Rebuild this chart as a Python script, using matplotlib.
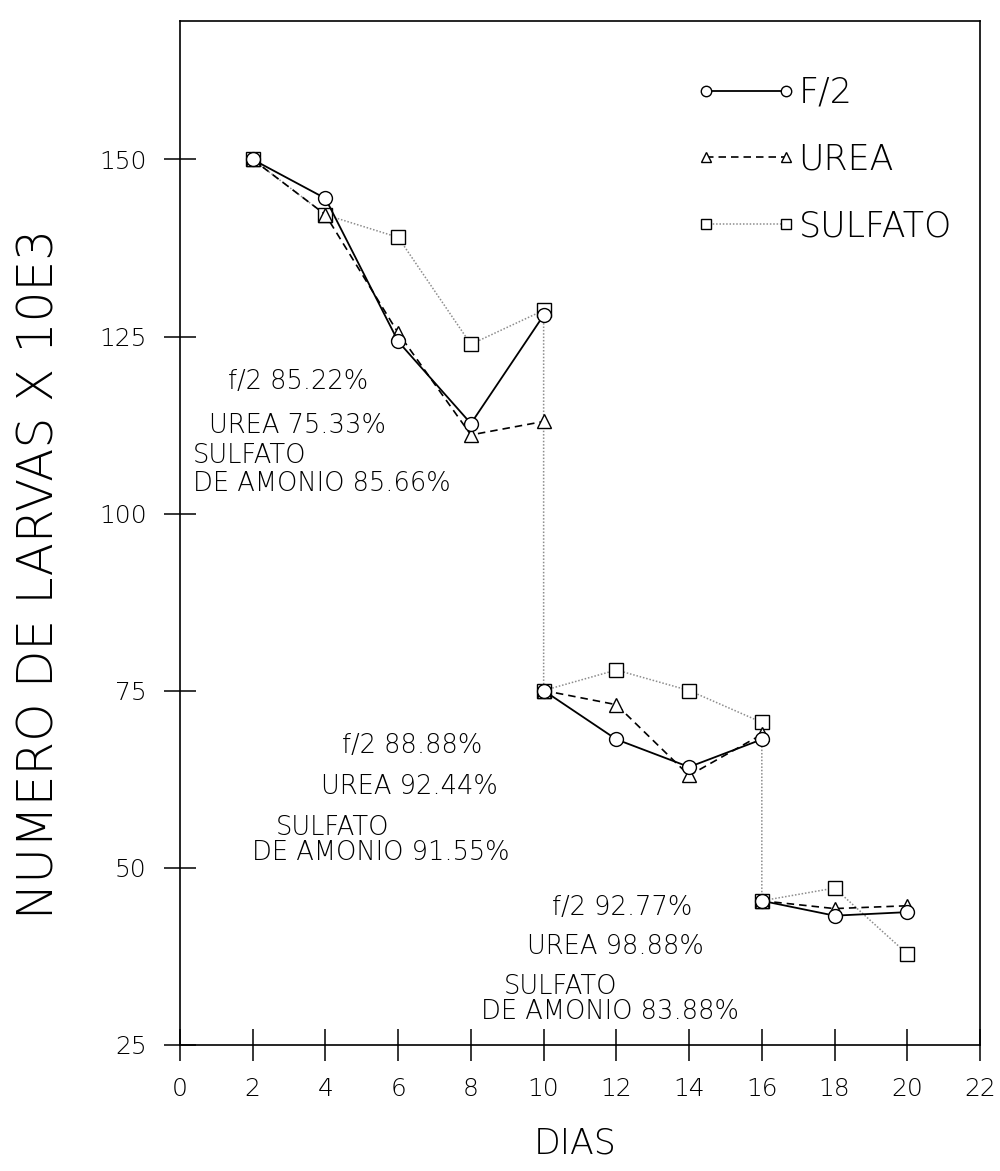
import matplotlib
matplotlib.use("Agg")
import matplotlib.pyplot as plt
import numpy as np

# days of culture
days_a = [2, 4, 6, 8, 10]
days_b = [10, 12, 14, 16]
days_c = [16, 18, 20]

# larvae x 10E3, per treatment (three stocking periods)
f2_a = [150, 144.5, 124.3, 112.7, 128.0]
f2_b = [75, 68.1, 64.2, 68.1]
f2_c = [45.3, 43.2, 43.7]

urea_a = [150, 142.2, 125.5, 111.1, 113.0]
urea_b = [75, 73.0, 63.0, 68.8]
urea_c = [45.3, 44.2, 44.6]

sulf_days = [2, 4, 6, 8, 10, 10, 12, 14, 16, 16, 18, 20]
sulf_vals = [150, 142.2, 139.0, 123.9, 128.7, 75, 77.9, 75.0, 70.5, 45.3, 47.1, 37.8]

# survival notes: (x, y, text)
notes = [
    (1.32, 118.7, "f/2 85.22%"),
    (0.80, 112.4, "UREA 75.33%"),
    (0.36, 108.2, "SULFATO"),
    (0.36, 104.3, "DE AMONIO 85.66%"),
    (4.45, 67.2, "f/2 88.88%"),
    (3.87, 61.5, "UREA 92.44%"),
    (2.63, 55.7, "SULFATO"),
    (1.98, 52.1, "DE AMONIO 91.55%"),
    (10.23, 44.35, "f/2 92.77%"),
    (9.53, 38.9, "UREA 98.88%"),
    (8.89, 33.2, "SULFATO"),
    (8.27, 29.6, "DE AMONIO 83.88%"),
]

plt.rcParams["font.family"] = ["DejaVu Sans"]
plt.rcParams["font.weight"] = "light"

fig = plt.figure(figsize=(10, 11.71), dpi=100)
ax = fig.add_axes([0.180, 0.108, 0.800, 0.8737])

f2_style = dict(color="black", linestyle="-", linewidth=1.3, marker="o",
                markersize=10, markerfacecolor="white", markeredgecolor="black",
                markeredgewidth=1.0)
urea_style = dict(color="black", linestyle=(0, (4.5, 3)), linewidth=1.2, marker="^",
                  markersize=10, markerfacecolor="white", markeredgecolor="black",
                  markeredgewidth=1.0)
sulf_style = dict(color="#8c8c8c", linestyle=(0, (1, 1.2)), linewidth=1.1, marker="s",
                  markersize=10.5, markerfacecolor="white", markeredgecolor="black",
                  markeredgewidth=1.0)

ax.plot(sulf_days, sulf_vals, zorder=2, label="SULFATO", **sulf_style)
ax.plot(days_a, urea_a, zorder=3, label="UREA", **urea_style)
ax.plot(days_b, urea_b, zorder=3, **urea_style)
ax.plot(days_c, urea_c, zorder=3, **urea_style)
ax.plot(days_a, f2_a, zorder=4, label="F/2", **f2_style)
ax.plot(days_b, f2_b, zorder=4, **f2_style)
ax.plot(days_c, f2_c, zorder=4, **f2_style)

for x, y, s in notes:
    ax.text(x, y, s, ha="left", va="center", fontsize=18.5, fontweight="light")

ax.set_xlim(0, 22)
ax.set_ylim(25, 169.5)
ax.set_xticks(np.arange(0, 23, 2))
ax.set_yticks([25, 50, 75, 100, 125, 150])
ax.tick_params(axis="both", direction="inout", length=23, width=1.1, labelsize=18)
ax.tick_params(axis="x", pad=12)
ax.tick_params(axis="y", pad=12.5)
for sp in ax.spines.values():
    sp.set_linewidth(1.2)

handles, labels = ax.get_legend_handles_labels()
order = [2, 1, 0]
ax.legend([handles[i] for i in order], [labels[i] for i in order],
          loc="upper left", bbox_to_anchor=(0.645, 0.947), frameon=False,
          numpoints=2, handlelength=2.9, handletextpad=0.05, labelspacing=0.95,
          borderpad=0, borderaxespad=0, markerscale=0.75, fontsize=25)

fig.text(0.040, 0.51, "NUMERO DE LARVAS X 10E3", rotation=90, ha="center",
         va="center", fontsize=35, fontweight="light")
fig.text(0.575, 0.0237, "DIAS", ha="center", va="center", fontsize=25,
         fontweight="light")

fig.savefig("out.png", dpi=100)
